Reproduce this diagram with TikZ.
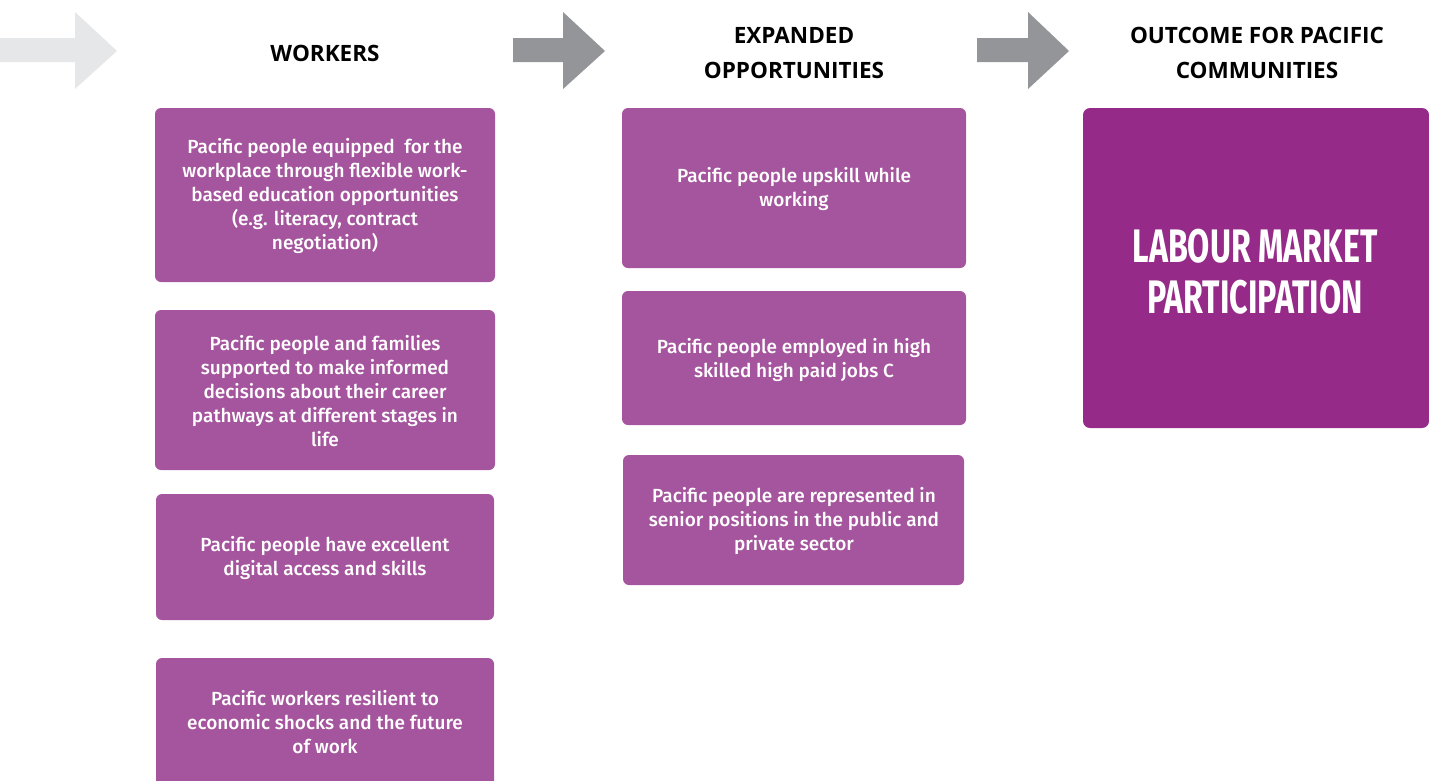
\documentclass[tikz,border=0pt]{standalone}
\usepackage{fontspec}
\setmainfont{Fira Sans}[UprightFont={* Medium}]
\newfontfamily\titlefont{Open Sans}[BoldFont={* Bold}]
\newfontfamily\bigfont{Fira Sans}
\usepackage{graphicx}
\definecolor{boxpurple}{HTML}{A5559D}
\definecolor{outpurple}{HTML}{962A88}
\definecolor{arrlight}{HTML}{E6E7E8}
\definecolor{arrdark}{HTML}{939598}
\begin{document}
\begin{tikzpicture}[x=1pt,y=-1pt,
  bx/.style={fill=boxpurple, rounded corners=6pt, draw=none},
  bxtext/.style={text=white, align=center, font=\fontsize{19}{24}\selectfont, inner sep=0pt},
  ttl/.style={align=center, font=\titlefont\bfseries\fontsize{22.5}{35}\selectfont, inner sep=0pt},
  bigt/.style={text=white, inner sep=0pt, anchor=base}]
\useasboundingbox (0,0) rectangle (1429,780);
\clip (0,0) rectangle (1429,780);
% arrows
\fill[arrlight] (0,38) -- (75,38) -- (75,12) -- (117,51) -- (75,89) -- (75,62) -- (0,62) -- cycle;
\fill[arrdark] (513,38) -- (563,38) -- (563,12) -- (605,51) -- (563,89) -- (563,62) -- (513,62) -- cycle;
\fill[arrdark] (977,38) -- (1028,38) -- (1028,12) -- (1069,51) -- (1028,89) -- (1028,62) -- (977,62) -- cycle;
% titles
\node[ttl] (t1) at (325,53) {WORKERS};
\node[ttl] (t2) at (794,53) {EXPANDED\\OPPORTUNITIES};
\node[ttl] (t3) at (1257,53) {OUTCOME FOR PACIFIC\\COMMUNITIES};
% column 1
\fill[bx] (155,108) rectangle (495,282);
\node[bxtext] (a1) at (325,196) {Pacific people equipped\ \ for the\\workplace through flexible work-\\based education opportunities\\(e.g. literacy, contract\\negotiation)};
\fill[bx] (155,310) rectangle (495,470);
\node[bxtext] (a2) at (325,391) {Pacific people and families\\supported to make informed\\decisions about their career\\pathways at different stages in\\life};
\fill[bx] (156,494) rectangle (494,620);
\node[bxtext] (a3) at (325,558) {Pacific people have excellent\\digital access and skills};
\fill[bx] (156,658) rectangle (494,790);
\node[bxtext] (a4) at (325,722) {Pacific workers resilient to\\economic shocks and the future\\of work};
% column 2
\fill[bx] (622,108) rectangle (966,268);
\node[bxtext] (b1) at (794,189) {Pacific people upskill while\\working};
\fill[bx] (622,291) rectangle (966,425);
\node[bxtext] (b2) at (794,360) {Pacific people employed in high\\skilled high paid jobs C};
\fill[bx] (623,455) rectangle (964,585);
\node[bxtext] (b3) at (794,521) {Pacific people are represented in\\senior positions in the public and\\private sector};
% column 3
\fill[outpurple, rounded corners=7pt] (1083,108) rectangle (1429,428);
\node[bigt] (c1) at (1255,262) {\scalebox{0.685}[1]{\bigfont\bfseries\fontsize{47}{51}\selectfont LABOUR MARKET}};
\node[bigt] (c2) at (1255,313) {\scalebox{0.685}[1]{\bigfont\bfseries\fontsize{47}{51}\selectfont PARTICIPATION}};
\end{tikzpicture}
\end{document}
